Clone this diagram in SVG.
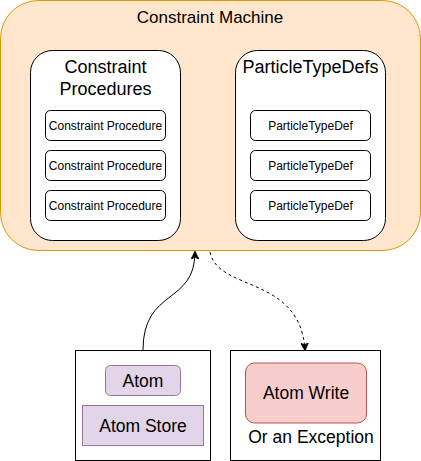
<svg xmlns="http://www.w3.org/2000/svg" width="421" height="461" viewBox="0 0 421 461">
<style>
text{font-family:"Liberation Sans",Arial,Helvetica,sans-serif;fill:#000;text-anchor:middle}
.box{fill:#fff;stroke:#000;stroke-width:1}
.item{font-size:12px}
.title{font-size:18px}
.big{font-size:17.5px}
.edge{fill:none;stroke:#000;stroke-width:1}
</style>
<defs>
<marker id="arr" viewBox="0 0 10 10" refX="9" refY="5" markerWidth="8" markerHeight="8" markerUnits="userSpaceOnUse" orient="auto">
<path d="M0,0 L10,5 L0,10 L2.5,5 Z" fill="#000" stroke="#000" stroke-width="1"/>
</marker>
</defs>
<g id="constraint-machine">
<rect x="0.5" y="0.5" width="420" height="250" rx="38" ry="38" fill="#ffe6cc" stroke="#d79b00"/>
<text x="210" y="23" style="font-size:17px">Constraint Machine</text>
</g>
<g id="constraint-procedures">
<rect class="box" x="30.5" y="50.5" width="150" height="190" rx="22" ry="22"/>
<text class="title" x="105.5" y="73">Constraint</text>
<text class="title" x="105.5" y="95">Procedures</text>
</g>
<g id="cp1"><rect class="box" x="45.5" y="110.5" width="120" height="30" rx="5" ry="5"/><text class="item" x="105.5" y="129.5">Constraint Procedure</text></g>
<g id="cp2"><rect class="box" x="45.5" y="150.5" width="120" height="30" rx="5" ry="5"/><text class="item" x="105.5" y="169.5">Constraint Procedure</text></g>
<g id="cp3"><rect class="box" x="45.5" y="190.5" width="120" height="30" rx="5" ry="5"/><text class="item" x="105.5" y="209.5">Constraint Procedure</text></g>
<g id="particle-type-defs">
<rect class="box" x="235.5" y="50.5" width="150" height="190" rx="22" ry="22"/>
<text class="title" x="310.5" y="73">ParticleTypeDefs</text>
</g>
<g id="ptd1"><rect class="box" x="250.5" y="110.5" width="120" height="30" rx="5" ry="5"/><text class="item" x="310.5" y="129.5">ParticleTypeDef</text></g>
<g id="ptd2"><rect class="box" x="250.5" y="150.5" width="120" height="30" rx="5" ry="5"/><text class="item" x="310.5" y="169.5">ParticleTypeDef</text></g>
<g id="ptd3"><rect class="box" x="250.5" y="190.5" width="120" height="30" rx="5" ry="5"/><text class="item" x="310.5" y="209.5">ParticleTypeDef</text></g>
<g id="input">
<rect class="box" x="75.5" y="350.5" width="135" height="110"/>
</g>
<g id="atom">
<rect x="105.5" y="365.5" width="75" height="30" rx="5" ry="5" fill="#e1d5e7" stroke="#9673a6"/>
<text class="big" x="143" y="386.5">Atom</text>
</g>
<g id="atom-store">
<rect x="82.5" y="405.5" width="121" height="40" fill="#e1d5e7" stroke="#9673a6"/>
<text class="big" x="143" y="431.5">Atom Store</text>
</g>
<g id="output">
<rect class="box" x="230.5" y="350.5" width="150" height="110"/>
<text class="big" x="311" y="443">Or an Exception</text>
</g>
<g id="atom-write">
<rect x="245.5" y="363" width="121" height="60" rx="9" ry="9" fill="#f8cecc" stroke="#b85450"/>
<text class="big" x="306" y="399">Atom Write</text>
</g>
<g id="connectors">
<path class="edge" d="M143,350 C143,288 195,305 195,252" marker-end="url(#arr)"/>
<path class="edge" d="M210,252 C218,292 300,275 305,350" stroke-dasharray="3,3" marker-end="url(#arr)"/>
</g>
</svg>
